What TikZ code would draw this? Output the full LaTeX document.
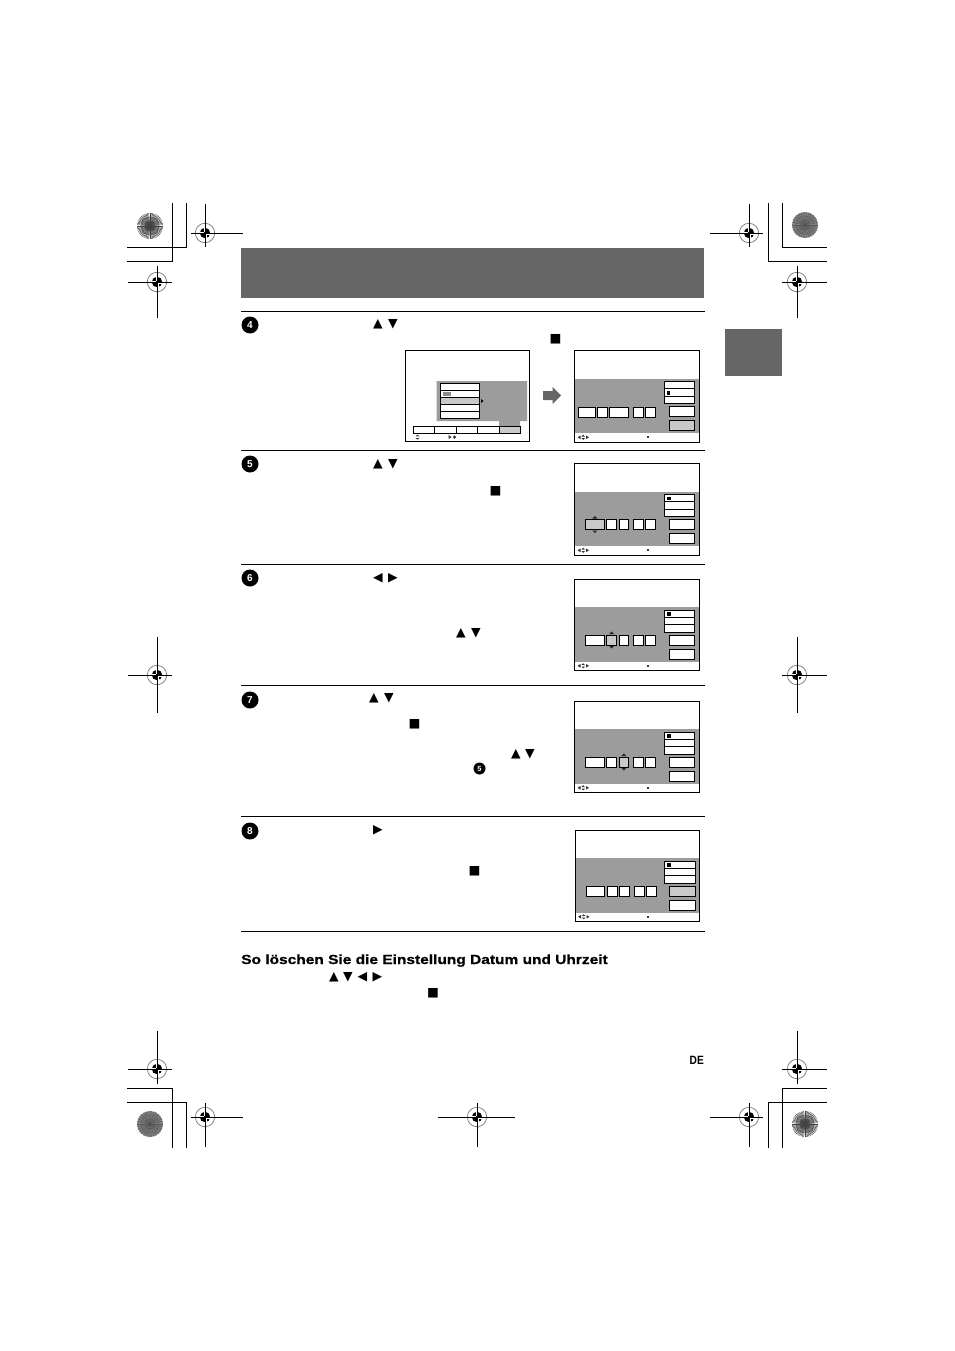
\documentclass[tikz,border=0pt]{standalone}
\usepackage{fontspec}
\setsansfont{Liberation Sans}
\newfontfamily\symfont{DejaVu Sans}
\newfontfamily\headfont[FakeBold=0.6]{Liberation Sans Bold}
\usetikzlibrary{positioning}
\colorlet{panel dark}{black!60}
\colorlet{panel band}{black!39}
\colorlet{panel active}{black!21}
\tikzset{
  cropline/.style={draw=black, line width=0.9pt},
  rule/.style={draw=black, line width=0.9pt},
  screenbox/.style={draw=black, line width=0.9pt, fill=white},
  smallbox/.style={draw=black, line width=0.8pt},
  sym/.style={inner sep=0pt, yshift=-0.7pt, font=\symfont\fontsize{12.5}{12.5}\selectfont},
  stepmark/.style={circle, fill=black, text=white, inner sep=0pt, minimum size=17pt,
    font=\sffamily\bfseries\fontsize{10}{10}\selectfont},
  smallmark/.style={stepmark, minimum size=12pt, font=\sffamily\bfseries\fontsize{7.5}{7.5}\selectfont}
}
% registration mark: centre, arm lengths left/right/up/down
\newcommand{\regmark}[6]{
  \draw[draw=black!55, line width=0.7pt] (#1,#2) circle (9.7);
  \fill[black] (#1,#2) circle (5.2);
  \draw[white, line width=0.4pt] (#1-5,#2-1) -- (#1-1,#2-1) (#1-1,#2-5) -- (#1-1,#2-1)
    (#1+5,#2+1) -- (#1+1,#2+1) (#1+1,#2+5) -- (#1+1,#2+1);
  \draw[cropline] (#1-#3,#2) -- (#1+#4,#2) (#1,#2-#5) -- (#1,#2+#6);
}
% spoked wheel: centre, spoke step, spoke colour, disc colour
\newcommand{\spokewheel}[5]{
  \fill[#5] (#1,#2) circle (13);
  \foreach \ang in {0,#3,...,359}{
    \draw[#4, line width=0.5pt] (#1,#2) -- ++(\ang:13);
  }
  \draw[#4, line width=0.35pt] (#1,#2) circle (9) (#1,#2) circle (5);
  \fill[black!70] (#1,#2) circle (1.2);
}
% date screen: top left corner, active cell, marker row is always the first
\newcommand{\datescreen}[3]{
  \begin{scope}[shift={(#1,#2)}]
    \draw[screenbox] (0,0) rectangle (124.5,91.5);
    \fill[panel band] (0.5,28) rectangle (124,82.5);
    \draw[screenbox] (89.5,31) rectangle (120,53);
    \draw[smallbox] (89.5,38.3) -- (120,38.3) (89.5,45.6) -- (120,45.6);
    \fill[black] (92,33) rectangle (96,36.5);
    \foreach \a/\b/\i in {11/29.5/1,32/42/2,44.5/54/3,59/69/4,71/81/5}{
      \ifnum\i=#3 \def\cellfill{panel active}\else \def\cellfill{white}\fi
      \draw[smallbox, fill=\cellfill] (\a,56) rectangle (\b,66);
      \ifnum\i=#3
        \fill[black!85] (\a/2+\b/2-2.5,55) -- (\a/2+\b/2+2.5,55) -- (\a/2+\b/2,52.5) -- cycle;
        \fill[black!85] (\a/2+\b/2-2.5,67) -- (\a/2+\b/2+2.5,67) -- (\a/2+\b/2,69.5) -- cycle;
      \fi
    }
    \ifnum#3=6 \def\cellfill{panel active}\else \def\cellfill{white}\fi
    \draw[smallbox, fill=\cellfill] (94.5,56) rectangle (120,66);
    \draw[smallbox, fill=white] (94.5,70) rectangle (120,80);
    \fill[black!80] (3,86.8) -- (6,85) -- (6,88.6) -- cycle
      (7,86) -- (8.7,84.2) -- (10.4,86) -- cycle
      (7,87.6) -- (8.7,89.4) -- (10.4,87.6) -- cycle
      (14.5,86.8) -- (11.5,85) -- (11.5,88.6) -- cycle;
    \fill[black!80] (72,85.5) rectangle (74,87.5);
  \end{scope}
}
\begin{document}
\begin{tikzpicture}[x=1pt,y=-1pt]
  \useasboundingbox (0,0) rectangle (954,1351);

  % crop corners
  \draw[cropline] (172,203) -- (172,261) -- (127,261);
  \draw[cropline] (186,203) -- (186,247) -- (127,247);
  \draw[cropline] (782,203) -- (782,247) -- (827,247);
  \draw[cropline] (768,203) -- (768,261) -- (827,261);
  \draw[cropline] (172,1148) -- (172,1088) -- (127,1088);
  \draw[cropline] (186,1148) -- (186,1102) -- (127,1102);
  \draw[cropline] (782,1148) -- (782,1088) -- (827,1088);
  \draw[cropline] (768,1148) -- (768,1102) -- (827,1102);

  \foreach \x/\y/\l/\r/\u/\d in {205/233/14/38/29/14, 749/233/39/14/29/14,
      157/282/29/15/16/36, 797/282/15/30/16/36,
      157/675/29/15/38/38, 797/675/15/30/38/38,
      157/1069/29/15/38/15, 797/1069/15/30/38/15,
      205/1117/14/38/14/30, 477/1117/39/38/14/30, 749/1117/39/14/14/30}{
    \regmark{\x}{\y}{\l}{\r}{\u}{\d}
  }
  \spokewheel{150}{226}{6}{black!75}{white}
  \spokewheel{805}{225}{12}{black!65}{black!50}
  \spokewheel{150}{1124}{12}{black!65}{black!50}
  \spokewheel{805}{1124}{6}{black!75}{white}

  % header and side tab
  \fill[panel dark] (241,248) rectangle (704,298);
  \fill[panel dark] (725,329) rectangle (782,376);

  \foreach \y in {311,450,564,685,816,931}{
    \draw[rule] (241,\y) -- (705,\y);
  }

  % step marks
  \node[stepmark] (step4) at (250,325) {4};
  \node[stepmark] (step5) at (250,464) {5};
  \node[stepmark] (step6) at (250,578) {6};
  \node[stepmark] (step7) at (250,700) {7};
  \node[stepmark] (step8) at (250,831) {8};
  \node[smallmark] (ref5) at (479.5,768.5) {5};

  % key symbols
  \node[sym] (up4) at (378,324) {▲};
  \node[sym] (down4) at (393,324) {▼};
  \node[sym] (ok4) at (555.5,338.5) {■};
  \node[sym] (up5) at (378,464) {▲};
  \node[sym] (down5) at (393,464) {▼};
  \node[sym] (ok5) at (495.5,491) {■};
  \node[sym] (left6) at (378,578) {◀};
  \node[sym] (right6) at (393,578) {▶};
  \node[sym] (up6) at (461,633) {▲};
  \node[sym] (down6) at (476,633) {▼};
  \node[sym] (up7) at (374,698) {▲};
  \node[sym] (down7) at (389,698) {▼};
  \node[sym] (ok7) at (414.5,724) {■};
  \node[sym] (upb7) at (516,754) {▲};
  \node[sym] (downb7) at (530,754) {▼};
  \node[sym] (right8) at (378,830) {▶};
  \node[sym] (ok8) at (474.5,871) {■};
  \node[sym] (upc) at (334,977) {▲};
  \node[sym] (downc) at (348,977) {▼};
  \node[sym] (leftc) at (362.5,977) {◀};
  \node[sym] (rightc) at (377.5,977) {▶};
  \node[sym] (okc) at (433,993) {■};

  % menu screen
  \draw[screenbox] (405,350.5) rectangle (529.5,441.5);
  \fill[panel band] (436.5,381) rectangle (527,421) (499,421) rectangle (520,426.5);
  \draw[screenbox] (440.5,383.5) rectangle (479.5,418.5);
  \fill[panel active] (441,397) rectangle (479,404);
  \draw[smallbox] (440.5,390.5) -- (479.5,390.5) (440.5,397) -- (479.5,397)
    (440.5,404) -- (479.5,404) (440.5,411) -- (479.5,411);
  \fill[black!45] (442.5,392) rectangle (451,396);
  \fill[black] (481,399) -- (483.5,401) -- (481,403) -- cycle;
  \draw[smallbox, fill=white] (413.5,426.5) rectangle (520.5,433.5);
  \draw[smallbox, fill=panel active] (499,426.5) rectangle (520.5,433.5);
  \foreach \x in {434.5,456.5,477.5}{
    \draw[smallbox] (\x,426.5) -- (\x,433.5);
  }
  \fill[black!80] (415.5,436.3) -- (419.5,436.3) -- (417.5,434.8) -- cycle
    (415.5,438) -- (419.5,438) -- (417.5,439.6) -- cycle
    (448.5,435) -- (451.5,437) -- (448.5,439) -- cycle
    (452.8,437) -- (454.5,435.3) -- (456.2,437) -- (454.5,438.8) -- cycle;

  % big arrow
  \fill[panel dark] (543,391) -- (552.5,391) -- (552.5,387) -- (561,395.5) -- (552.5,404) -- (552.5,400) -- (543,400) -- cycle;

  % date screens
  \datescreen{574.5}{350.5}{0}
  \begin{scope}[shift={(574.5,350.5)}]
    \fill[panel band] (1,54) rectangle (88,68);
    \draw[smallbox, fill=white] (4,56.5) rectangle (21,66.5);
    \draw[smallbox, fill=white] (23,56.5) rectangle (33,66.5);
    \draw[smallbox, fill=white] (35,56.5) rectangle (54,66.5);
    \draw[smallbox, fill=white] (59,56.5) rectangle (69,66.5);
    \draw[smallbox, fill=white] (71,56.5) rectangle (81,66.5);
    \fill[white] (91.5,32) rectangle (98,37.5);
    \fill[black] (92,40) rectangle (95,44.5);
    \draw[smallbox, fill=panel active] (94.5,70) rectangle (120,80);
  \end{scope}
  \datescreen{574.5}{463.5}{1}
  \datescreen{574.5}{579}{2}
  \datescreen{574.5}{701}{3}
  \datescreen{575}{830}{6}

  % texts
  \node[anchor=base west, inner sep=0pt, font=\headfont\fontsize{13.2}{13.2}\selectfont, xscale=1.173] (cleartitle) at (241,964)
    {So löschen Sie die Einstellung Datum und Uhrzeit};
  \node[anchor=base east, inner sep=0pt, font=\sffamily\bfseries\fontsize{12}{12}\selectfont, xscale=0.85] (lang) at (704,1064) {DE};
\end{tikzpicture}
\end{document}
